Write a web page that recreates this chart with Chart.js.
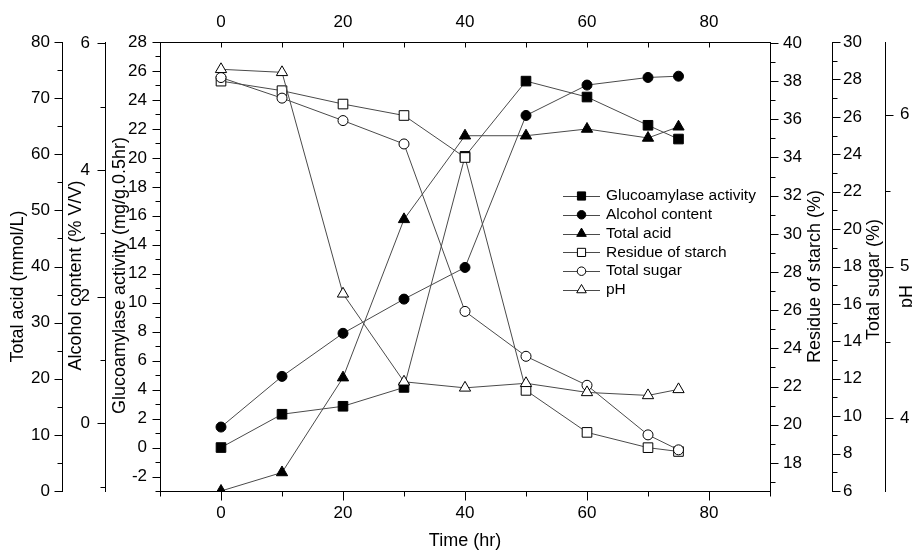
<!DOCTYPE html>
<html>
<head>
<meta charset="utf-8">
<title>Fermentation time course</title>
<script src="https://cdn.jsdelivr.net/npm/chart.js@4.4.1/dist/chart.umd.min.js"></script>
<style>
  html, body { margin: 0; padding: 0; background: #fff; }
  canvas { display: block; }
</style>
</head>
<body>
<canvas id="chart" width="912" height="552"></canvas>
<script>
// sampling times (hr)
const timeHr = [0, 10, 20, 30, 40, 50, 60, 70, 75];

// values
const glucoamylase = [0.0, 2.3, 2.85, 4.15, 20.1, 25.3, 24.2, 22.25, 21.3];
const alcohol = [-0.06, 0.74, 1.42, 1.96, 2.46, 4.86, 5.34, 5.46, 5.48];
const totalAcid = [0, 3.3, 20.2, 48.4, 63.3, 63.3, 64.5, 62.9, 64.9];
const starchResidue = [38.0, 37.5, 36.8, 36.2, 34.0, 21.8, 19.6, 18.8, 18.6];
const totalSugar = [28.1, 27.0, 25.8, 24.55, 15.6, 13.2, 11.65, 9.0, 8.2];
const pH = [6.30, 6.28, 4.82, 4.24, 4.20, 4.23, 4.17, 4.15, 4.19];

const seriesLabels = ['Glucoamylase activity', 'Alcohol content', 'Total acid', 'Residue of starch', 'Total sugar', 'pH'];
const seriesValues = [glucoamylase, alcohol, totalAcid, starchResidue, totalSugar, pH];
const seriesAxes = ['yGluco', 'yAlcohol', 'yAcid', 'yStarch', 'ySugar', 'yPH'];
const seriesShapes = ['rect', 'circle', 'triangle', 'rect', 'circle', 'triangle'];
const seriesFilled = [true, true, true, false, false, false];

// axis ranges: [min, max, step, label every]
const xRange = [-10, 90, 10, 20];
const glucoRange = [-3, 28, 1, 2];
const alcoholRange = [-1.07, 6.02, 1, 2];
const acidRange = [0, 80, 5, 10];
const starchRange = [16.53, 40.05, 1, 2];
const sugarRange = [6, 30, 1, 2];
const pHRange = [3.52, 6.48, 0.5, 1];

const FONT = '"Liberation Sans", Arial, sans-serif';
Chart.defaults.font.family = FONT;
Chart.defaults.color = '#000';

const markerSize = { rect: 6.8, circle: 5, triangle: 6.5 };

function isMultiple(v, every) {
  const q = v / every;
  return Math.abs(q - Math.round(q)) < 1e-6;
}

function yScale(position, weight, width, range, pad) {
  return {
    type: 'linear',
    position: position,
    weight: weight,
    min: range[0],
    max: range[1],
    afterFit: s => { s.width = width; },
    grid: { display: false, drawTicks: false },
    border: { display: true, color: '#000', width: 1 },
    ticks: {
      stepSize: range[2],
      includeBounds: false,
      autoSkip: false,
      padding: pad,
      font: { size: 17 },
      callback: v => isMultiple(v, range[3]) ? String(v) : ''
    }
  };
}

const datasets = seriesValues.map((vals, i) => ({
  label: seriesLabels[i],
  data: timeHr.map((t, j) => ({ x: t, y: vals[j] })),
  yAxisID: seriesAxes[i],
  xAxisID: 'x',
  order: seriesValues.length - i,
  borderColor: '#4a4a4a',
  borderWidth: 1,
  pointStyle: seriesShapes[i],
  pointRadius: markerSize[seriesShapes[i]],
  pointBackgroundColor: seriesFilled[i] ? '#000' : '#fff',
  pointBorderColor: '#000',
  pointBorderWidth: 1,
  clip: seriesAxes[i] === 'yAcid' ? 1 : undefined
}));

// tick marks: long on labelled values, short otherwise; top axis points inward
const tickMarks = {
  id: 'tickMarks',
  afterDraw(chart) {
    const ctx = chart.ctx;
    ctx.save();
    ctx.strokeStyle = '#000';
    ctx.lineWidth = 1;
    ctx.beginPath();
    Object.values(chart.scales).forEach(scale => {
      const pos = scale.options.position;
      scale.ticks.forEach(tick => {
        const major = tick.label !== '';
        const p = Math.round(scale.getPixelForValue(tick.value)) + 0.5;
        if (pos === 'left') {
          const x = Math.round(scale.right) + 0.5;
          ctx.moveTo(x, p); ctx.lineTo(x - (major ? 8 : 5), p);
        } else if (pos === 'right') {
          const x = Math.round(scale.left) + 0.5;
          ctx.moveTo(x, p); ctx.lineTo(x + (major ? 8 : 5), p);
        } else if (pos === 'bottom') {
          const y = Math.round(scale.top) + 0.5;
          ctx.moveTo(p, y); ctx.lineTo(p, y + (major ? 9 : 5));
        } else {
          const y = Math.round(scale.bottom) + 0.5;
          ctx.moveTo(p, y); ctx.lineTo(p, y + 5);
        }
      });
    });
    ctx.stroke();
    ctx.restore();
  }
};

// y axis titles, all rotated counter-clockwise like the original
const yTitles = {
  yAcid: { text: 'Total acid (mmol/L)', dx: 18, dy: 20 },
  yAlcohol: { text: 'Alcohol content (% V/V)', dx: 14, dy: 9 },
  yGluco: { text: 'Glucoamylase activity (mg/g.0.5hr)', dx: 15, dy: 9 },
  yStarch: { text: 'Residue of starch (%)', dx: 45, dy: 10 },
  ySugar: { text: 'Total sugar (%)', dx: 42, dy: 13 },
  yPH: { text: 'pH', dx: 22, dy: 30 }
};

const axisTitles = {
  id: 'axisTitles',
  afterDraw(chart) {
    const ctx = chart.ctx;
    ctx.save();
    ctx.fillStyle = '#000';
    ctx.font = '18px ' + FONT;
    ctx.textAlign = 'center';
    ctx.textBaseline = 'middle';
    Object.keys(yTitles).forEach(id => {
      const s = chart.scales[id];
      const t = yTitles[id];
      ctx.save();
      ctx.translate(s.left + t.dx, (s.top + s.bottom) / 2 + t.dy);
      ctx.rotate(-Math.PI / 2);
      ctx.fillText(t.text, 0, 0);
      ctx.restore();
    });
    ctx.restore();
  }
};

// Origin style legend: line - marker - line, then the name
const legendBox = {
  id: 'legendBox',
  afterDraw(chart) {
    const ctx = chart.ctx;
    const x0 = 563, y0 = 196, row = 18.8;
    ctx.save();
    chart.data.datasets.forEach((ds, i) => {
      const y = y0 + i * row;
      ctx.strokeStyle = ds.borderColor;
      ctx.lineWidth = 1;
      ctx.beginPath();
      ctx.moveTo(x0, Math.round(y) + 0.5);
      ctx.lineTo(x0 + 37, Math.round(y) + 0.5);
      ctx.stroke();
      ctx.fillStyle = ds.pointBackgroundColor;
      ctx.strokeStyle = ds.pointBorderColor;
      Chart.helpers.drawPoint(ctx, {
        pointStyle: ds.pointStyle,
        radius: ds.pointRadius * 0.85,
        rotation: 0,
        borderWidth: 1
      }, x0 + 18.5, y);
      ctx.fillStyle = '#000';
      ctx.font = '15.5px ' + FONT;
      ctx.textAlign = 'left';
      ctx.textBaseline = 'middle';
      ctx.fillText(ds.label, x0 + 43, y);
    });
    ctx.restore();
  }
};

new Chart(document.getElementById('chart'), {
  type: 'line',
  data: { datasets: datasets },
  plugins: [tickMarks, axisTitles, legendBox],
  options: {
    responsive: false,
    devicePixelRatio: 1,
    animation: false,
    layout: { padding: 0 },
    plugins: {
      legend: { display: false },
      tooltip: { enabled: false }
    },
    scales: {
      x: {
        type: 'linear',
        position: 'bottom',
        min: xRange[0],
        max: xRange[1],
        afterFit: s => { s.height = 61; },
        grid: { display: false, drawTicks: false },
        border: { display: true, color: '#000', width: 1 },
        title: {
          display: true,
          text: 'Time (hr)',
          font: { size: 18 },
          padding: { top: 0, bottom: 0 }
        },
        ticks: {
          stepSize: xRange[2],
          autoSkip: false,
          maxRotation: 0,
          padding: 12,
          font: { size: 17 },
          callback: v => isMultiple(v, xRange[3]) ? String(v) : ''
        }
      },
      x2: {
        type: 'linear',
        position: 'top',
        min: xRange[0],
        max: xRange[1],
        afterFit: s => { s.height = 42; },
        grid: { display: false, drawTicks: false },
        border: { display: true, color: '#000', width: 1 },
        ticks: {
          stepSize: xRange[2],
          autoSkip: false,
          maxRotation: 0,
          padding: 9,
          font: { size: 17 },
          callback: v => isMultiple(v, xRange[3]) ? String(v) : ''
        }
      },
      yGluco: yScale('left', 0, 55, glucoRange, 13),
      yAlcohol: yScale('left', 1, 43, alcoholRange, 15),
      yAcid: yScale('left', 2, 62, acidRange, 12),
      yStarch: yScale('right', 0, 62, starchRange, 13),
      ySugar: yScale('right', 1, 53, sugarRange, 11),
      yPH: yScale('right', 2, 27, pHRange, 15)
    }
  }
});
</script>
</body>
</html>
